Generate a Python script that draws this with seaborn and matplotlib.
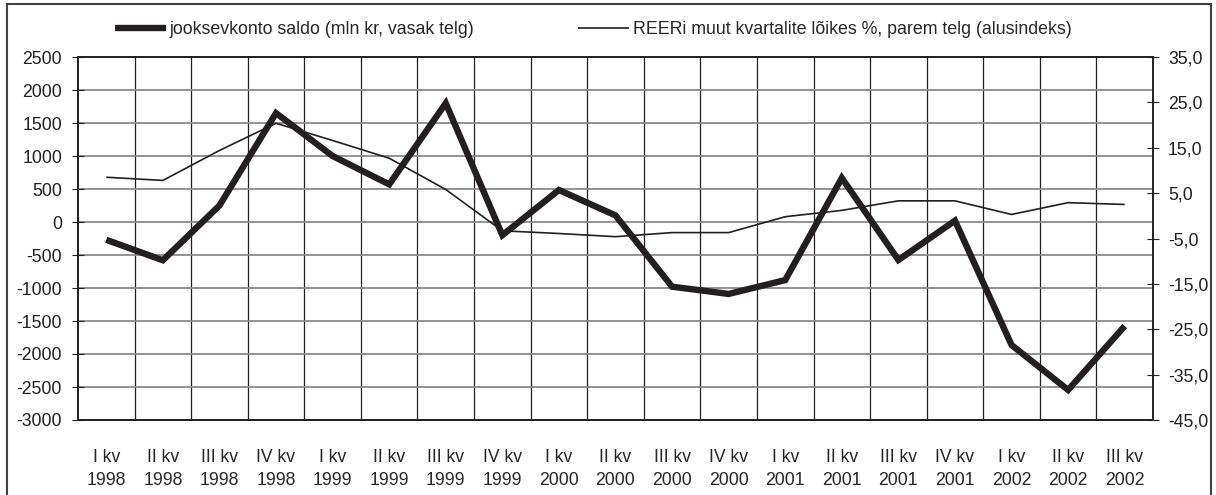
import numpy as np
import pandas as pd
import matplotlib
matplotlib.use('Agg')
import matplotlib.pyplot as plt
import seaborn as sns
from matplotlib.patches import Rectangle

# Andmed
quarters = ['I kv', 'II kv', 'III kv', 'IV kv'] * 4 + ['I kv', 'II kv', 'III kv']
years = ['1998'] * 4 + ['1999'] * 4 + ['2000'] * 4 + ['2001'] * 4 + ['2002'] * 3
saldo = [-270, -580, 250, 1650, 1000, 570, 1800, -200, 485, 100,
         -980, -1090, -880, 667, -576, 20, -1864, -2545, -1576]
reer = [8.5, 7.8, 14.4, 20.4, 16.6, 12.7, 5.8, -3.3, -3.9, -4.6,
        -3.7, -3.7, -0.2, 1.2, 3.3, 3.3, 0.3, 2.9, 2.5]
left_ticks = list(range(-3000, 2501, 500))
right_ticks = list(range(-45, 36, 10))

label_saldo = 'jooksevkonto saldo (mln kr, vasak telg)'
label_reer = 'REERi muut kvartalite lõikes %, parem telg (alusindeks)'

sns.set_style('white')
plt.rcParams['font.family'] = ['Liberation Sans', 'DejaVu Sans']
plt.rcParams['axes.unicode_minus'] = False
plt.rcParams['font.size'] = 12.7

df = pd.DataFrame({'pos': np.arange(len(saldo)), 'saldo': saldo, 'reer': reer})
ink = '#231f20'

fig = plt.figure(figsize=(12.16, 4.95), dpi=100)
ax = fig.add_axes([78 / 1216, 1 - 420 / 495, (1153 - 78) / 1216, (420 - 57) / 495])
ax2 = ax.twinx()

sns.lineplot(data=df, x='pos', y='saldo', ax=ax, color=ink, lw=4.6,
             label=label_saldo, legend=False,
             solid_capstyle='butt', solid_joinstyle='miter')
sns.lineplot(data=df, x='pos', y='reer', ax=ax2, color=ink, lw=1.2,
             label=label_reer, legend=False, solid_capstyle='butt')

ax.set_xlim(-0.5, len(saldo) - 0.5)
ax.set_ylim(-3000, 2500)
ax.set_yticks(left_ticks)
ax.set_yticklabels([str(t) for t in left_ticks])
ax2.set_ylim(-45, 35)
ax2.set_yticks(right_ticks)
ax2.set_yticklabels([f'{t:.1f}'.replace('.', ',') for t in right_ticks])

ax.set_xticks(df['pos'])
ax.set_xticklabels([f'{q}\n{y}' for q, y in zip(quarters, years)], linespacing=1.45)
ax.set_xticks(np.arange(0.5, len(saldo) - 1, 1), minor=True)
ax.tick_params(axis='x', which='both', length=0, pad=21)
ax.tick_params(axis='y', direction='inout', length=8.6, width=0.8, pad=7.2, colors=ink)
ax2.tick_params(axis='y', direction='inout', length=8.6, width=0.8, pad=6.5, colors=ink)
ax.set_xlabel('')
ax.set_ylabel('')
ax2.set_ylabel('')

ax.grid(True, axis='y', color='#8a8a8a', lw=1.3)
ax.grid(True, axis='x', which='minor', color=ink, lw=0.9)
ax.grid(False, axis='x', which='major')
ax.set_axisbelow(True)
for a in (ax, ax2):
    for s in a.spines.values():
        s.set_color(ink)
        s.set_linewidth(1.2)

h1, l1 = ax.get_legend_handles_labels()
h2, l2 = ax2.get_legend_handles_labels()
fig.legend(h1 + h2, l1 + l2, loc='center', bbox_to_anchor=(593 / 1216, 1 - 30 / 495),
           ncol=2, frameon=False, handlelength=2.9, handletextpad=0.2,
           columnspacing=5.8, fontsize=12.8)

# raam ümber kogu joonise
fig.patches.append(Rectangle((7 / 1216, -0.05), (1211 - 7) / 1216, 1.05 - 4 / 495,
                             transform=fig.transFigure, fill=False,
                             edgecolor='#404040', lw=1.5))

fig.savefig('out.png', dpi=100)
